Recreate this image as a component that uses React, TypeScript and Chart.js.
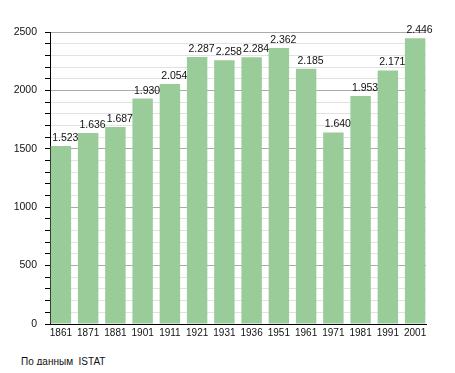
import React, { useEffect, useRef } from "react";
import { Chart, registerables } from "chart.js";

Chart.register(...registerables);

const years = ["1861", "1871", "1881", "1901", "1911", "1921", "1931", "1936", "1951", "1961", "1971", "1981", "1991", "2001"];
const population = [1523, 1636, 1687, 1930, 2054, 2287, 2258, 2284, 2362, 2185, 1640, 1953, 2171, 2446];
const yMax = 2500;
const sourceText = "По данным  ISTAT";

const FONT = "'Liberation Sans', Arial, sans-serif";

function fmt(v: number): string {
  const s = String(Math.round(v));
  return s.replace(/\B(?=(\d{3})+(?!\d))/g, ".");
}

const valueLabels = {
  id: "valueLabels",
  afterDatasetsDraw(chart: any) {
    const ctx = chart.ctx;
    const meta = chart.getDatasetMeta(0);
    ctx.save();
    ctx.font = `10.5px ${FONT}`;
    ctx.fillStyle = "#111";
    ctx.textAlign = "left";
    ctx.textBaseline = "alphabetic";
    meta.data.forEach((bar: any, i: number) => {
      const v = population[i];
      ctx.fillText(fmt(v), bar.x - bar.width / 2 + 1.5, bar.y - 5);
    });
    ctx.restore();
  },
};

export default function App() {
  const ref = useRef<HTMLCanvasElement | null>(null);
  useEffect(() => {
    if (!ref.current) return;
    const chart = new Chart(ref.current, {
      type: "bar",
      data: {
        datasets: [
          {
            data: population.map((v, i) => ({ x: i, y: v })),
            backgroundColor: "#99cc99",
            borderWidth: 0,
            barPercentage: 0.75,
            categoryPercentage: 1,
          },
        ],
      },
      options: {
        animation: false,
        responsive: false,
        layout: { padding: { top: 24, right: 21, left: 0, bottom: 0 } },
        plugins: { legend: { display: false }, tooltip: { enabled: false } },
        scales: {
          x: {
            type: "linear",
            offset: false,
            min: -0.4,
            max: years.length - 1 + 0.4,
            afterBuildTicks: (scale: any) => {
              scale.ticks = years.map((_, i) => ({ value: i }));
            },
            afterFit: (scale: any) => {
              scale.height = 24;
            },
            grid: { display: false, drawTicks: false },
            border: { display: true, color: "#000", width: 1 },
            ticks: {
              autoSkip: false,
              maxRotation: 0,
              padding: 3,
              color: "#111",
              font: { family: FONT, size: 10 },
              callback: (v: any) => years[Math.round(Number(v))] ?? "",
            },
          },
          y: {
            min: 0,
            max: yMax,
            afterFit: (scale: any) => {
              scale.width = 42;
            },
            grid: {
              color: (c: any) => (c.tick && c.tick.value % 500 === 0 ? "#aaaaaa" : "#e2e2e2"),
              tickColor: "#000",
              tickLength: 5,
              lineWidth: 1,
            },
            border: { display: true, color: "#000", width: 1 },
            ticks: {
              stepSize: 100,
              autoSkip: false,
              padding: 8,
              color: "#111",
              font: { family: FONT, size: 10.5 },
              callback: (v: any) => (Number(v) % 500 === 0 ? String(v) : ""),
            },
          },
        },
      },
      plugins: [valueLabels],
    } as any);
    return () => chart.destroy();
  }, []);

  return (
    <div style={{ position: "relative", width: 439, height: 357 }}>
      <canvas ref={ref} width={439} height={340} style={{ display: "block" }} />
      <div
        style={{
          position: "absolute",
          left: 13,
          top: 348,
          fontFamily: FONT,
          fontSize: 10,
          lineHeight: "12px",
          color: "#111",
          whiteSpace: "pre",
        }}
      >
        {sourceText}
      </div>
    </div>
  );
}
